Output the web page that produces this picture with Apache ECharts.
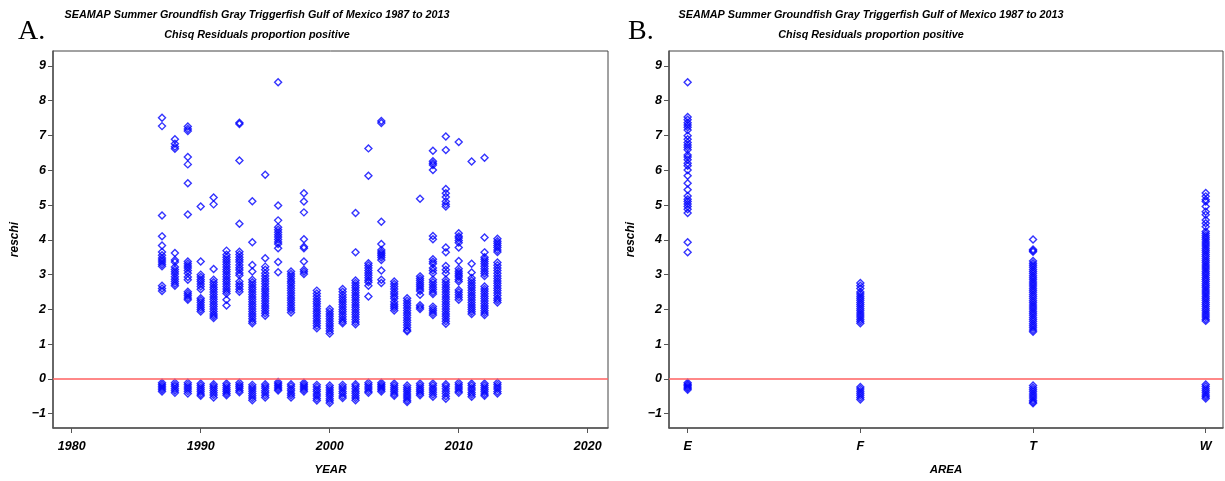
<!DOCTYPE html>
<html>
<head>
<meta charset="utf-8">
<script src="https://cdn.jsdelivr.net/npm/echarts@6/dist/echarts.min.js"></script>
<style>
html,body{margin:0;padding:0;background:#fff;}
#chart{width:1225px;height:481px;}
</style>
</head>
<body>
<div id="chart"></div>
<script>
const titleLine1 = 'SEAMAP Summer Groundfish Gray Triggerfish Gulf of Mexico 1987 to 2013';
const titleLine2 = 'Chisq Residuals proportion positive';
const years = [1987,1988,1989,1990,1991,1992,1993,1994,1995,1996,1997,1998,1999,2000,2001,2002,2003,2004,2005,2006,2007,2008,2009,2010,2011,2012,2013];
const yearTicks = [1980,1990,2000,2010,2020];
const yTicks = [-1,0,1,2,3,4,5,6,7,8,9];
const areaLabels = ['E','F','T','W'];

// Panel A: positive residuals per year
const posA = [
  [7.51,7.27,4.70,4.10,3.84,3.65,3.56,3.48,3.42,3.36,3.30,3.24,2.68,2.60,2.53],
  [6.89,6.76,6.68,6.62,3.62,3.42,3.36,3.22,3.15,3.08,3.02,2.94,2.87,2.80,2.74,2.68],
  [7.26,7.19,7.13,6.38,6.17,5.63,4.73,3.38,3.31,3.25,3.19,3.12,3.04,2.93,2.85,2.51,2.45,2.39,2.33,2.28],
  [4.96,3.38,3.00,2.93,2.86,2.80,2.73,2.66,2.58,2.32,2.26,2.20,2.13,2.06,2.00,1.94],
  [5.22,5.02,3.16,2.85,2.78,2.71,2.64,2.57,2.50,2.43,2.36,2.29,2.22,2.15,2.08,2.01,1.94,1.87,1.81,1.75],
  [3.69,3.57,3.50,3.43,3.36,3.29,3.22,3.15,3.08,3.01,2.94,2.87,2.80,2.73,2.66,2.59,2.52,2.46,2.28,2.11],
  [7.37,7.33,6.28,4.46,3.66,3.58,3.50,3.43,3.36,3.28,3.20,3.13,3.05,2.98,2.80,2.72,2.66,2.58,2.51],
  [5.11,3.93,3.28,3.09,2.85,2.78,2.71,2.64,2.57,2.50,2.43,2.36,2.29,2.22,2.15,2.08,2.01,1.94,1.87,1.80,1.73,1.66,1.60],
  [5.87,3.47,3.23,3.14,3.04,2.96,2.88,2.81,2.74,2.66,2.59,2.52,2.45,2.38,2.31,2.24,2.17,2.10,2.03,1.96,1.89,1.82],
  [8.53,4.99,4.56,4.36,4.29,4.22,4.15,4.08,4.01,3.94,3.88,3.76,3.36,3.07],
  [3.09,3.02,2.95,2.88,2.81,2.75,2.68,2.61,2.54,2.47,2.40,2.33,2.26,2.19,2.12,2.05,1.98,1.91],
  [5.34,5.10,4.79,4.02,3.80,3.76,3.38,3.14,3.08,3.02],
  [2.54,2.46,2.38,2.30,2.23,2.16,2.09,2.02,1.95,1.88,1.81,1.74,1.67,1.60,1.53,1.46],
  [2.01,1.94,1.87,1.80,1.73,1.66,1.59,1.52,1.45,1.38,1.31],
  [2.59,2.51,2.42,2.35,2.28,2.21,2.14,2.07,2.00,1.93,1.86,1.79,1.72,1.65,1.60],
  [4.77,3.64,2.83,2.76,2.69,2.62,2.55,2.48,2.41,2.34,2.27,2.20,2.13,2.06,1.99,1.92,1.85,1.78,1.71,1.64,1.57],
  [6.63,5.84,3.33,3.26,3.19,3.12,3.05,2.98,2.91,2.84,2.78,2.68,2.37],
  [7.42,7.36,4.52,3.88,3.71,3.65,3.60,3.55,3.49,3.42,3.12,2.85,2.76],
  [2.80,2.73,2.66,2.59,2.51,2.44,2.37,2.31,2.22,2.15,2.09,2.03,1.97],
  [2.32,2.25,2.18,2.11,2.04,1.97,1.90,1.83,1.76,1.69,1.62,1.55,1.48,1.41,1.37],
  [5.18,2.95,2.89,2.83,2.77,2.71,2.65,2.59,2.53,2.42,2.12,2.06,2.01],
  [6.56,6.26,6.20,6.15,6.01,4.11,4.02,3.44,3.37,3.31,3.19,3.12,3.04,2.85,2.78,2.71,2.64,2.57,2.50,2.44,2.08,2.02,1.96,1.90,1.84],
  [6.97,6.58,5.46,5.34,5.23,5.10,5.02,4.96,3.78,3.64,3.25,3.14,3.04,2.85,2.78,2.71,2.64,2.57,2.50,2.43,2.36,2.29,2.22,2.15,2.08,2.01,1.94,1.87,1.80,1.73,1.66,1.59],
  [6.81,4.19,4.10,4.05,3.98,3.92,3.78,3.39,3.17,3.10,3.04,2.98,2.93,2.86,2.80,2.56,2.49,2.42,2.35,2.28],
  [6.25,3.31,3.06,2.90,2.83,2.76,2.69,2.62,2.55,2.48,2.41,2.34,2.27,2.20,2.13,2.06,2.00,1.93,1.87],
  [6.36,4.07,3.64,3.50,3.44,3.38,3.31,3.24,3.17,3.10,3.03,2.96,2.66,2.59,2.52,2.45,2.38,2.31,2.24,2.17,2.10,2.03,1.96,1.90,1.84],
  [4.03,3.96,3.90,3.84,3.78,3.71,3.65,3.35,3.27,3.19,3.12,3.04,2.96,2.89,2.82,2.75,2.68,2.61,2.54,2.47,2.40,2.32,2.26,2.20]
];

// Panel A: negative residuals per year
const negA = [
  [-0.11,-0.16,-0.21,-0.26,-0.31,-0.36],
  [-0.11,-0.17,-0.22,-0.28,-0.34,-0.40],
  [-0.11,-0.17,-0.23,-0.29,-0.35,-0.42],
  [-0.13,-0.19,-0.25,-0.31,-0.37,-0.43,-0.48],
  [-0.15,-0.21,-0.27,-0.33,-0.40,-0.46,-0.53],
  [-0.13,-0.19,-0.25,-0.31,-0.36,-0.42,-0.47],
  [-0.11,-0.17,-0.22,-0.27,-0.33,-0.38],
  [-0.17,-0.23,-0.29,-0.35,-0.42,-0.48,-0.55,-0.61],
  [-0.15,-0.21,-0.27,-0.34,-0.40,-0.47,-0.53],
  [-0.09,-0.14,-0.19,-0.24,-0.29,-0.33],
  [-0.15,-0.21,-0.28,-0.34,-0.41,-0.47,-0.53],
  [-0.11,-0.16,-0.21,-0.26,-0.31,-0.36],
  [-0.17,-0.23,-0.30,-0.36,-0.43,-0.49,-0.56,-0.62],
  [-0.19,-0.25,-0.32,-0.38,-0.44,-0.50,-0.57,-0.63,-0.69],
  [-0.17,-0.23,-0.29,-0.36,-0.42,-0.49,-0.55],
  [-0.15,-0.21,-0.28,-0.35,-0.41,-0.48,-0.55,-0.61],
  [-0.11,-0.17,-0.23,-0.29,-0.35,-0.40],
  [-0.11,-0.16,-0.21,-0.26,-0.31,-0.36],
  [-0.13,-0.19,-0.25,-0.31,-0.37,-0.43,-0.48],
  [-0.19,-0.25,-0.31,-0.37,-0.43,-0.49,-0.55,-0.61,-0.66],
  [-0.13,-0.19,-0.25,-0.31,-0.36,-0.42,-0.47],
  [-0.13,-0.19,-0.26,-0.32,-0.38,-0.45,-0.51],
  [-0.15,-0.21,-0.28,-0.35,-0.42,-0.50,-0.57],
  [-0.11,-0.17,-0.23,-0.29,-0.35,-0.40],
  [-0.13,-0.19,-0.26,-0.32,-0.39,-0.45,-0.51],
  [-0.13,-0.19,-0.25,-0.31,-0.37,-0.43,-0.48],
  [-0.11,-0.17,-0.23,-0.29,-0.36,-0.42]
];

// Panel B: residuals per area (E, F, T, W)
const posB = [
  [8.53,7.53,7.45,7.37,7.30,7.24,7.16,6.99,6.89,6.80,6.73,6.66,6.59,6.44,6.38,6.30,6.20,6.13,6.01,5.84,5.63,5.44,5.26,5.17,5.10,5.03,4.96,4.88,4.77,3.93,3.64],
  [2.76,2.68,2.60,2.50,2.44,2.38,2.32,2.26,2.20,2.14,2.08,2.02,1.96,1.90,1.84,1.78,1.72,1.66,1.60],
  [4.01,3.72,3.69,3.66,3.39,3.33,3.27,3.21,3.15,3.09,3.03,2.97,2.91,2.85,2.79,2.73,2.67,2.61,2.55,2.49,2.43,2.37,2.31,2.25,2.19,2.13,2.07,2.01,1.95,1.89,1.83,1.77,1.71,1.65,1.59,1.53,1.47,1.41,1.36],
  [5.35,5.25,5.15,5.10,4.96,4.81,4.72,4.57,4.48,4.38,4.24,4.18,4.12,4.06,4.00,3.94,3.88,3.82,3.76,3.70,3.64,3.58,3.52,3.46,3.40,3.34,3.28,3.22,3.16,3.10,3.04,2.98,2.92,2.86,2.80,2.74,2.68,2.62,2.56,2.50,2.44,2.38,2.32,2.26,2.20,2.14,2.08,2.02,1.96,1.90,1.84,1.78,1.72,1.67]
];
const negB = [
  [-0.11,-0.15,-0.19,-0.23,-0.27,-0.31],
  [-0.23,-0.29,-0.35,-0.41,-0.47,-0.53,-0.59],
  [-0.19,-0.25,-0.31,-0.37,-0.43,-0.49,-0.55,-0.61,-0.66,-0.70],
  [-0.16,-0.22,-0.28,-0.34,-0.40,-0.46,-0.51,-0.56]
];

const FONT = '"Liberation Sans", Arial, sans-serif';
const blue = '#0000ff';

const dataA = [];
years.forEach((yr, i) => {
  posA[i].forEach(v => dataA.push([yr, v]));
  negA[i].forEach(v => dataA.push([yr, v]));
});
const dataB = [];
areaLabels.forEach((a, i) => {
  posB[i].forEach(v => dataB.push([i, v]));
  negB[i].forEach(v => dataB.push([i, v]));
});

const fmtY = v => (v < 0 ? '\u2212' + Math.abs(v) : String(v));
const labelStyle = {fontFamily: FONT, fontStyle: 'italic', fontWeight: 'bold', fontSize: 12.5, color: '#000'};
const axisLine = {show: true, onZero: false, lineStyle: {color: '#555', width: 1.5}};
const axisTick = {show: true, length: 5, lineStyle: {color: '#555', width: 1}};

function yAxisDef(gi) {
  return {
    type: 'value', gridIndex: gi, min: -1.41, max: 9.43,
    name: 'reschi', nameLocation: 'middle', nameGap: 32,
    nameTextStyle: {fontFamily: FONT, fontStyle: 'italic', fontWeight: 'bold', fontSize: 12, color: '#000'},
    axisLine: axisLine,
    axisTick: Object.assign({customValues: yTicks}, axisTick),
    axisLabel: Object.assign({customValues: yTicks, margin: 7, formatter: fmtY}, labelStyle),
    splitLine: {show: false}
  };
}

const markZero = {
  silent: true, symbol: ['none', 'none'],
  label: {show: false},
  lineStyle: {color: '#ff6060', width: 1.5, type: 'solid'},
  data: [{yAxis: 0}]
};

const symStyle = {color: 'rgba(0,0,0,0)', borderColor: blue, borderWidth: 1.4};

const option = {
  animation: false,
  backgroundColor: '#fff',
  grid: [
    {left: 53, top: 51, width: 555, height: 377, show: true, borderColor: '#444', borderWidth: 1, backgroundColor: 'transparent'},
    {left: 669, top: 51, width: 554, height: 377, show: true, borderColor: '#444', borderWidth: 1, backgroundColor: 'transparent'}
  ],
  xAxis: [
    {
      type: 'value', gridIndex: 0, min: 1978.55, max: 2021.57,
      name: 'YEAR', nameLocation: 'middle', nameGap: 36,
      nameTextStyle: {fontFamily: FONT, fontStyle: 'italic', fontWeight: 'bold', fontSize: 11.5, color: '#000'},
      axisLine: axisLine,
      axisTick: Object.assign({customValues: yearTicks}, axisTick),
      axisLabel: Object.assign({customValues: yearTicks, margin: 12, formatter: v => String(v)}, labelStyle),
      splitLine: {show: false}
    },
    {
      type: 'value', gridIndex: 1, min: -0.108, max: 3.1,
      name: 'AREA', nameLocation: 'middle', nameGap: 36,
      nameTextStyle: {fontFamily: FONT, fontStyle: 'italic', fontWeight: 'bold', fontSize: 11.5, color: '#000'},
      axisLine: axisLine,
      axisTick: Object.assign({customValues: [0, 1, 2, 3]}, axisTick),
      axisLabel: Object.assign({customValues: [0, 1, 2, 3], margin: 12, formatter: v => areaLabels[Math.round(v)]}, labelStyle),
      splitLine: {show: false}
    }
  ],
  yAxis: [yAxisDef(0), yAxisDef(1)],
  series: [
    {
      type: 'scatter', xAxisIndex: 0, yAxisIndex: 0, data: dataA,
      symbol: 'diamond', symbolSize: 7,
      itemStyle: symStyle,
      markLine: markZero, z: 3
    },
    {
      type: 'scatter', xAxisIndex: 1, yAxisIndex: 1, data: dataB,
      symbol: 'diamond', symbolSize: 7,
      itemStyle: symStyle,
      markLine: markZero, z: 3
    }
  ],
  graphic: [
    {type: 'text', x: 257, y: 15, style: {text: titleLine1, textAlign: 'center', textVerticalAlign: 'middle', font: 'italic bold 10.8px ' + FONT, fill: '#000'}},
    {type: 'text', x: 257, y: 35, style: {text: titleLine2, textAlign: 'center', textVerticalAlign: 'middle', font: 'italic bold 10.8px ' + FONT, fill: '#000'}},
    {type: 'text', x: 871, y: 15, style: {text: titleLine1, textAlign: 'center', textVerticalAlign: 'middle', font: 'italic bold 10.8px ' + FONT, fill: '#000'}},
    {type: 'text', x: 871, y: 35, style: {text: titleLine2, textAlign: 'center', textVerticalAlign: 'middle', font: 'italic bold 10.8px ' + FONT, fill: '#000'}},
    {type: 'text', x: 18, y: 46, style: {text: 'A.', textAlign: 'left', textVerticalAlign: 'bottom', font: '28px "Liberation Serif", "Times New Roman", serif', fill: '#000'}},
    {type: 'text', x: 628, y: 46, style: {text: 'B.', textAlign: 'left', textVerticalAlign: 'bottom', font: '28px "Liberation Serif", "Times New Roman", serif', fill: '#000'}}
  ]
};

const chart = echarts.init(document.getElementById('chart'), null, {renderer: 'canvas'});
chart.setOption(option);
</script>
</body>
</html>
